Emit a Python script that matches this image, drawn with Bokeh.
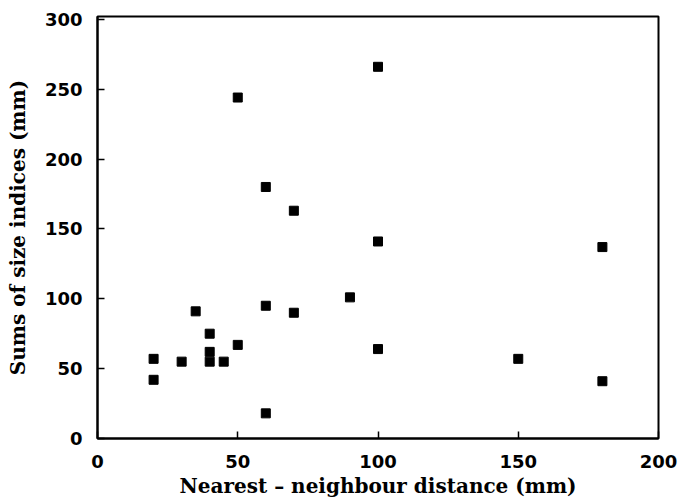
from bokeh.plotting import figure
from bokeh.models import Range1d, FixedTicker
from bokeh.embed import file_html
from bokeh.resources import INLINE

# Data
distance_mm = [20, 20, 30, 35, 40, 40, 40, 45, 50, 50, 60, 60, 60, 70, 70, 90, 100, 100, 100, 150, 180, 180]
size_sum_mm = [57, 42, 55, 91, 75, 62, 55, 55, 67, 244, 180, 95, 18, 163, 90, 101, 266, 141, 64, 57, 137, 41]

x_ticks = [0, 50, 100, 150, 200]
y_ticks = [0, 50, 100, 150, 200, 250, 300]

p = figure(width=678, height=503, output_backend="svg", toolbar_location=None,
           x_range=Range1d(0, 200), y_range=Range1d(0, 302),
           min_border_left=97, min_border_right=20, min_border_top=16, min_border_bottom=65)

p.scatter(distance_mm, size_sum_mm, marker="square", size=9, color="black")

p.xgrid.visible = False
p.ygrid.visible = False
p.outline_line_color = "black"
p.outline_line_width = 2
p.outline_line_alpha = 1

p.xaxis.ticker = FixedTicker(ticks=x_ticks)
p.yaxis.ticker = FixedTicker(ticks=y_ticks)

for ax in (p.xaxis, p.yaxis):
    ax.axis_line_width = 2
    ax.axis_line_color = "black"
    ax.major_tick_in = 7
    ax.major_tick_out = 0
    ax.major_tick_line_width = 1.5
    ax.major_tick_line_color = "black"
    ax.minor_tick_line_color = None
    ax.major_label_text_font = "DejaVu Sans"
    ax.major_label_text_font_style = "bold"
    ax.major_label_text_font_size = "18px"
    ax.major_label_text_color = "black"
    ax.axis_label_text_font = "DejaVu Serif"
    ax.axis_label_text_font_style = "bold"
    ax.axis_label_text_font_size = "20px"
    ax.axis_label_text_color = "black"

p.xaxis.axis_label = "Nearest \u2013 neighbour distance (mm)"
p.yaxis.axis_label = "Sums of size indices (mm)"
p.xaxis.major_label_standoff = 16
p.yaxis.major_label_standoff = 15
p.xaxis.axis_label_standoff = 3
p.yaxis.axis_label_standoff = 12

open("out.html", "w").write(file_html(p, INLINE))
